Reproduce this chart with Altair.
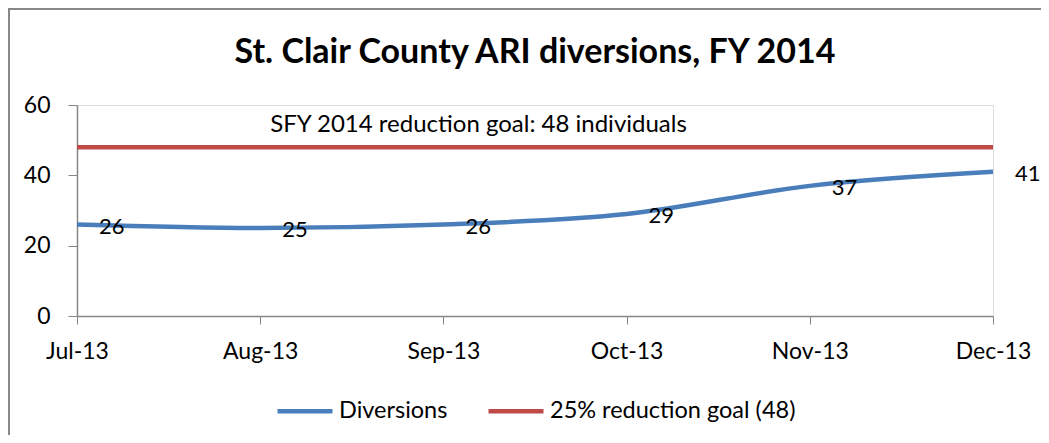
import altair as alt
import pandas as pd

# ---- data ----
months = ["Jul-13", "Aug-13", "Sep-13", "Oct-13", "Nov-13", "Dec-13"]
diversions = [26, 25, 26, 29, 37, 41]
goal_values = [48, 48, 48, 48, 48, 48]
series_names = ["Diversions", "25% reduction goal (48)"]
series_colors = ["#4A7EBB", "#BE4B48"]
annotation_text = ["SFY 2014 reduction goal: 48 individuals"]
annotation_month = ["Aug-13"]
annotation_value = [48]
y_ticks = [0, 20, 40, 60]
title_text = "St. Clair County ARI diversions, FY 2014"

FONT = "Lato"

rows = []
for m, v in zip(months, diversions):
    rows.append({"month": m, "value": v, "series": series_names[0]})
for m, v in zip(months, goal_values):
    rows.append({"month": m, "value": v, "series": series_names[1]})
df = pd.DataFrame(rows)
df_div = pd.DataFrame({"month": months, "value": diversions})
df_ann = pd.DataFrame({"month": annotation_month, "value": annotation_value, "label": annotation_text})
df_frame = pd.DataFrame({"k": [0]})

x_enc = alt.X(
    "month:N",
    sort=months,
    scale=alt.Scale(type="point", padding=0, domain=months),
    axis=alt.Axis(
        title=None, labelAngle=0, labelFont=FONT, labelFontSize=23, labelColor="#000000",
        tickColor="#868686", tickSize=8, domainColor="#868686", domainWidth=1.5,
        labelPadding=16, grid=False,
    ),
)
y_enc = alt.Y(
    "value:Q",
    scale=alt.Scale(domain=[0, 60], nice=False),
    axis=alt.Axis(
        title=None, values=y_ticks, labelFont=FONT, labelFontSize=23, labelColor="#000000",
        tickColor="#868686", tickSize=9, domainColor="#868686", domainWidth=1.5,
        labelPadding=18, grid=False,
    ),
)

frame = alt.Chart(df_frame).mark_rect(
    fillOpacity=0, stroke="#888888", strokeWidth=2
).encode(
    x=alt.value(-68), x2=alt.value(1100), y=alt.value(-96), y2=alt.value(400)
)

lines = alt.Chart(df).mark_line(strokeWidth=4.5, interpolate="monotone").encode(
    x=x_enc,
    y=y_enc,
    color=alt.Color(
        "series:N",
        scale=alt.Scale(domain=series_names, range=series_colors),
        sort=series_names,
        legend=alt.Legend(
            title=None, orient="none", direction="horizontal",
            legendX=198, legendY=276,
            symbolType="stroke", symbolSize=3025, symbolStrokeWidth=4.5,
            labelFont=FONT, labelFontSize=23.5, labelColor="#000000",
            labelOffset=4, columnPadding=31, labelLimit=400,
        ),
    ),
)

labels = alt.Chart(df_div).mark_text(
    align="left", baseline="middle", dx=22, dy=2, font=FONT, fontSize=22, color="#000000"
).encode(
    x=alt.X("month:N", sort=months),
    y="value:Q",
    text="value:Q",
)

annotation = alt.Chart(df_ann).mark_text(
    align="left", baseline="middle", dx=10, dy=-22, font=FONT, fontSize=24, color="#000000"
).encode(
    x=alt.X("month:N", sort=months),
    y="value:Q",
    text="label:N",
)

chart = alt.layer(frame, lines, labels, annotation).properties(
    width=916,
    height=211,
    autosize=alt.AutoSizeParams(type="none"),
    padding={"left": 69, "top": 97, "right": 48, "bottom": 119},
    title=alt.TitleParams(
        text=title_text, font=FONT, fontSize=34, fontWeight="bold",
        color="#000000", anchor="middle", offset=-62,
    ),
).configure_view(stroke=None).configure(background="white")

chart.save("out.html", embed_options={"renderer": "svg", "actions": False})
